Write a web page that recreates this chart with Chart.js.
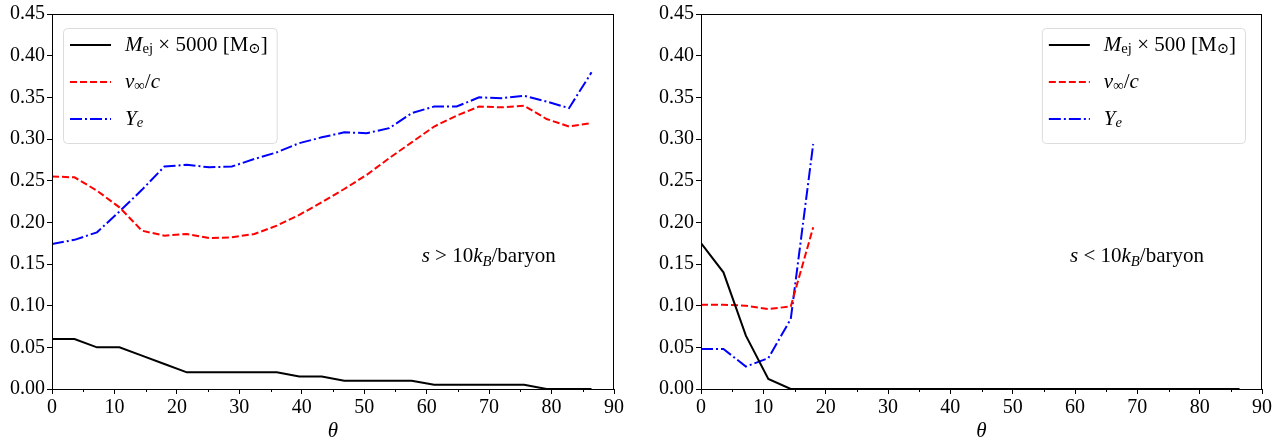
<!DOCTYPE html>
<html lang="en">
<head>
<meta charset="UTF-8">
<title>Ejecta properties vs theta</title>
<script src="https://cdn.jsdelivr.net/npm/chart.js@4.4.0/dist/chart.umd.min.js"></script>
<style>
  body { margin: 0; background: #fff; }
  #wrap { position: relative; width: 1278px; height: 444px; }
  canvas { position: absolute; top: 0; }
</style>
</head>
<body>
<div id="wrap">
  <canvas id="left" width="640" height="444" style="left:0"></canvas>
  <canvas id="right" width="638" height="444" style="left:640px"></canvas>
</div>
<script>
// polar angle bins (degrees)
const theta = [0, 3.6, 7.2, 10.8, 14.4, 18, 21.6, 25.2, 28.8, 32.4, 36, 39.6, 43.2,
               46.8, 50.4, 54, 57.6, 61.2, 64.8, 68.4, 72, 75.6, 79.2, 82.8, 86.4];

// s > 10 kB/baryon
const mejHigh = [0.06, 0.06, 0.05, 0.05, 0.04, 0.03, 0.02, 0.02, 0.02, 0.02, 0.02, 0.015, 0.015,
                 0.01, 0.01, 0.01, 0.01, 0.005, 0.005, 0.005, 0.005, 0.005, 0, 0, 0];
const velHigh = [0.255, 0.254, 0.238, 0.218, 0.19, 0.184, 0.186, 0.181, 0.182, 0.186, 0.196, 0.209, 0.224,
                 0.240, 0.257, 0.277, 0.296, 0.315, 0.328, 0.339, 0.338, 0.340, 0.324, 0.315, 0.319];
const yeHigh  = [0.174, 0.179, 0.188, 0.213, 0.239, 0.267, 0.269, 0.266, 0.267, 0.276, 0.284, 0.295, 0.302,
                 0.308, 0.307, 0.313, 0.331, 0.339, 0.339, 0.350, 0.349, 0.352, 0.345, 0.337, 0.380];

// s < 10 kB/baryon
const mejLow = [0.175, 0.14, 0.064, 0.012, 0, 0, 0, 0, 0, 0, 0, 0, 0,
                0, 0, 0, 0, 0, 0, 0, 0, 0, 0, 0, 0];
const velLow = [0.101, 0.101, 0.100, 0.096, 0.099, 0.194];
const yeLow  = [0.048, 0.048, 0.027, 0.037, 0.084, 0.294];

const xTicks = [0, 10, 20, 30, 40, 50, 60, 70, 80, 90];
const yTicks = [0, 0.05, 0.1, 0.15, 0.2, 0.25, 0.3, 0.35, 0.4, 0.45];

const SERIF = '"Liberation Serif", "DejaVu Serif", serif';

function series(ys) {
  return ys.map((y, i) => ({ x: theta[i], y: y }));
}

// draw text made of italic / subscript pieces, returns width
function rich(ctx, parts, x, y, size, measureOnly) {
  let cx = x;
  parts.forEach(p => {
    const s = p.sub ? size * 0.7 : size;
    ctx.font = (p.it ? 'italic ' : '') + s + 'px ' + SERIF;
    if (!measureOnly) ctx.fillText(p.t, cx, y + (p.sub ? size * 0.22 : 0));
    cx += ctx.measureText(p.t).width;
  });
  return cx - x;
}

const decor = {
  id: 'decor',
  afterDraw(chart, args, opts) {
    const ctx = chart.ctx, a = chart.chartArea;
    const xs = chart.scales.x, ys = chart.scales.y;
    ctx.save();

    // frame round the axes
    ctx.strokeStyle = '#000';
    ctx.lineWidth = 1;
    ctx.setLineDash([]);
    ctx.strokeRect(a.left + 0.5, a.top + 0.5, a.right - a.left - 1, a.bottom - a.top);

    // minor x ticks
    ctx.beginPath();
    for (let v = 5; v < 90; v += 10) {
      const px = Math.round(xs.getPixelForValue(v)) + 0.5;
      ctx.moveTo(px, a.bottom);
      ctx.lineTo(px, a.bottom + 3);
    }
    ctx.stroke();

    // legend inside the axes
    const fs = 21;
    ctx.textBaseline = 'middle';
    ctx.fillStyle = '#000';
    const sets = chart.data.datasets;
    let tw = 0;
    sets.forEach(d => { tw = Math.max(tw, rich(ctx, d.rich, 0, 0, fs, true)); });
    const bw = 7 + 41 + 14 + tw + 9, bh = 115;
    const bx = opts.side === 'left' ? a.left + 11 : a.right - 17 - bw;
    const by = a.top + 14;
    ctx.beginPath();
    ctx.roundRect(bx + 0.5, by + 0.5, bw, bh, 4);
    ctx.fillStyle = 'rgba(255,255,255,0.8)';
    ctx.fill();
    ctx.strokeStyle = '#dcdcdc';
    ctx.lineWidth = 1;
    ctx.stroke();
    sets.forEach((d, i) => {
      const ry = by + 17 + i * 37;
      ctx.beginPath();
      ctx.setLineDash(d.borderDash || []);
      ctx.strokeStyle = d.borderColor;
      ctx.lineWidth = d.borderWidth;
      ctx.moveTo(bx + 7, ry);
      ctx.lineTo(bx + 48, ry);
      ctx.stroke();
      ctx.fillStyle = '#000';
      rich(ctx, d.rich, bx + 62, ry, fs, false);
    });

    // region note
    ctx.textBaseline = 'alphabetic';
    rich(ctx, opts.note, xs.getPixelForValue(59.2), ys.getPixelForValue(0.153), 21, false);
    ctx.restore();
  }
};

function makeChart(id, mej, vel, ye, mult, side, noteSign, padLeft, padRight) {
  const datasets = [
    { data: series(mej), borderColor: '#000', borderWidth: 2, borderDash: [],
      rich: [{ t: 'M', it: true }, { t: 'ej', sub: true }, { t: ' × ' + mult + ' [M' }, { t: '⊙', sub: true }, { t: ']' }] },
    { data: series(vel), borderColor: '#ff0000', borderWidth: 2, borderDash: [7, 3],
      rich: [{ t: 'v', it: true }, { t: '∞', sub: true }, { t: '/' }, { t: 'c', it: true }] },
    { data: series(ye), borderColor: '#0000ff', borderWidth: 2, borderDash: [12, 3, 2, 3],
      rich: [{ t: 'Y', it: true }, { t: 'e', it: true, sub: true }] }
  ];
  const note = [{ t: 's', it: true }, { t: '\u2005' + noteSign + '\u2005' + '10' }, { t: 'k', it: true },
                { t: 'B', it: true, sub: true }, { t: '/baryon' }];
  return new Chart(document.getElementById(id).getContext('2d'), {
    type: 'line',
    data: { datasets: datasets },
    plugins: [decor],
    options: {
      responsive: false,
      animation: false,
      layout: { padding: { left: padLeft, right: padRight, top: 10, bottom: 0 } },
      elements: { point: { radius: 0 }, line: { tension: 0, fill: false } },
      plugins: {
        legend: { display: false },
        tooltip: { enabled: false },
        decor: { side: side, note: note }
      },
      scales: {
        x: {
          type: 'linear', min: 0, max: 90,
          afterBuildTicks: s => { s.ticks = xTicks.map(v => ({ value: v })); },
          afterFit: s => { s.height = 55; },
          grid: { drawOnChartArea: false, drawTicks: true, tickLength: 5, color: '#000' },
          border: { display: true, color: '#000', width: 1 },
          ticks: { color: '#000', padding: 2, maxRotation: 0, font: { family: SERIF, size: 20 } },
          title: { display: true, text: 'θ', color: '#000', padding: { top: 0, bottom: 0 },
                   font: { family: SERIF, size: 21, style: 'italic' } }
        },
        y: {
          min: 0, max: 0.45,
          afterBuildTicks: s => { s.ticks = yTicks.map(v => ({ value: v })); },
          afterFit: s => { s.width = 52; },
          grid: { drawOnChartArea: false, drawTicks: true, tickLength: 5, color: '#000' },
          border: { display: true, color: '#000', width: 1 },
          ticks: { color: '#000', padding: 2, font: { family: SERIF, size: 20 },
                   callback: v => Number(v).toFixed(2) }
        }
      }
    }
  });
}

makeChart('left', mejHigh, velHigh, yeHigh, '5000', 'left', '>', 0, 26);
makeChart('right', mejLow, velLow, yeLow, '500', 'right', '<', 9, 16);
</script>
</body>
</html>
